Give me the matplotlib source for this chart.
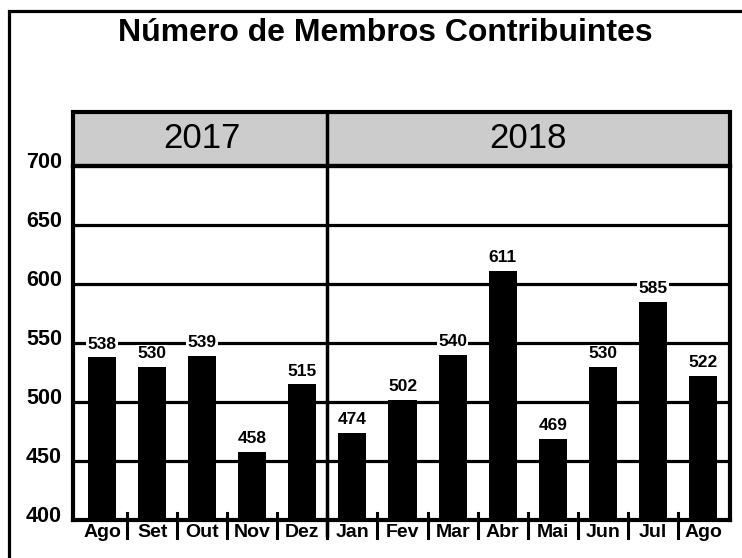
import matplotlib
matplotlib.use("Agg")
import matplotlib.pyplot as plt
from matplotlib.patches import Rectangle
from matplotlib.transforms import blended_transform_factory
import numpy as np

plt.rcParams['font.family'] = ['Liberation Sans', 'DejaVu Sans']

title = "Número de Membros Contribuintes"
months = ["Ago", "Set", "Out", "Nov", "Dez", "Jan", "Fev", "Mar", "Abr", "Mai", "Jun", "Jul", "Ago"]
values = [538, 530, 539, 458, 515, 474, 502, 540, 611, 469, 530, 585, 522]
years = ["2017", "2018"]
year_counts = [5, 8]
yticks = [400, 450, 500, 550, 600, 650, 700]

W, H = 742, 558
fig = plt.figure(figsize=(W / 100, H / 100), dpi=100)
ax = fig.add_axes([73 / W, (H - 520) / H, (730 - 73) / W, (520 - 166) / H])

x = np.arange(len(values))
ax.bar(x, values, width=0.56, color="black", zorder=3)
ax.set_xlim(-0.58, len(values) - 1 + 0.54)
ax.set_ylim(yticks[0], yticks[-1])

# gridlines
for yv in yticks[1:-1]:
    ax.axhline(yv, color="black", lw=2.3, zorder=2)

for s in ax.spines.values():
    s.set_linewidth(3)
    s.set_zorder(5)

ax.set_xticks(x)
ax.set_xticklabels(months, fontsize=14, fontweight="bold")
ax.tick_params(axis="x", length=0, pad=3)
ax.set_yticks(yticks)
ax.set_yticklabels([])
ax.tick_params(axis="y", length=0)

# y labels sitting on the gridlines
ytr = blended_transform_factory(ax.transAxes, ax.transData)
for yv in yticks:
    ax.annotate(str(yv), xy=(0, yv), xycoords=ytr, xytext=(-8, -1.5),
                textcoords="offset points", ha="right", va="baseline",
                fontsize=15.5, fontweight="bold", annotation_clip=False)

# value labels
for xi, v in zip(x, values):
    ax.annotate(str(v), xy=(xi, v), xytext=(0, 4), textcoords="offset points",
                ha="center", va="bottom", fontsize=12.5, fontweight="bold",
                zorder=7,
                bbox=dict(boxstyle="square,pad=0.08", facecolor="white",
                          edgecolor="none"))

# separator ticks between months
btr = blended_transform_factory(ax.transData, ax.transAxes)
ax_h = 520 - 166
for b in x[:-1] + 0.5:
    ax.plot([b, b], [7 / ax_h, -18 / ax_h], transform=btr, color="black",
            lw=2.2, clip_on=False, zorder=6)

# header band with year labels
head_h = 54 / ax_h
ax.add_patch(Rectangle((0, 1), 1, head_h, transform=ax.transAxes,
                       facecolor="#cccccc", edgecolor="black", lw=3,
                       clip_on=False, zorder=4))
start = -0.5
bounds = []
for n in year_counts:
    bounds.append((start, start + n))
    start += n
xl = ax.get_xlim()
for (a, b), yr in zip(bounds, years):
    a2 = max(a, xl[0]); b2 = min(b, xl[1])
    ax.text((a2 + b2) / 2, 1 + head_h / 2, yr, transform=btr, ha="center",
            va="center", fontsize=25, zorder=6)
for (a, b) in bounds[:-1]:
    ax.plot([b, b], [-15 / ax_h, 1 + head_h], transform=btr, color="black",
            lw=2.5, clip_on=False, zorder=6)

fig.text(385 / W, 1 - 33 / H, title, ha="center", va="center",
         fontsize=23, fontweight="bold")

# outer frame (partially outside the canvas)
fig.add_artist(Rectangle((9 / W, -0.1), 1.2, (H - 11) / H + 0.1,
                         transform=fig.transFigure, fill=False,
                         edgecolor="black", lw=2.3))

fig.savefig("out.png", dpi=100)
